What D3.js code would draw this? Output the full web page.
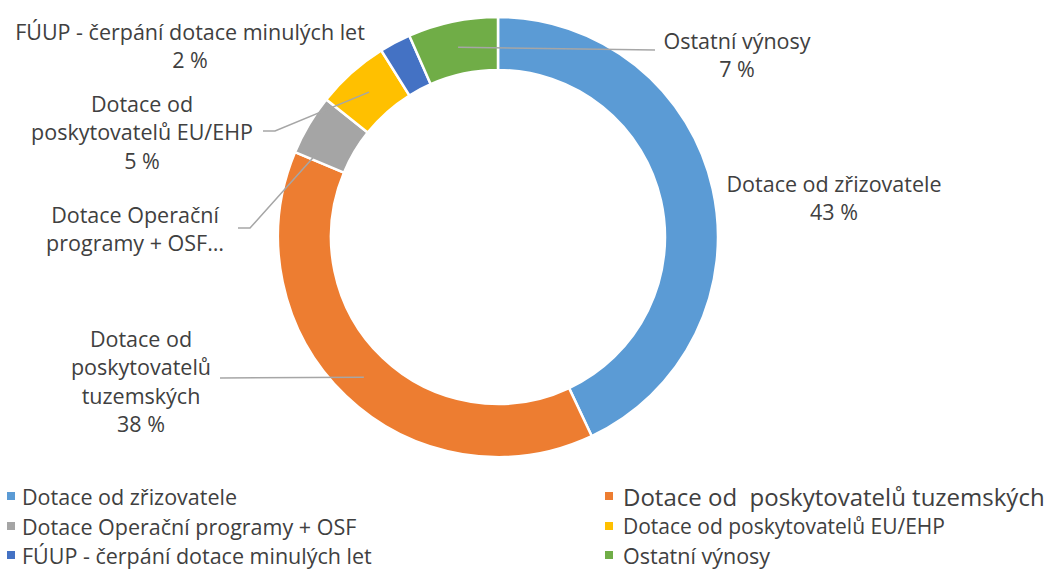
<!DOCTYPE html>
<html>
<head>
<meta charset="utf-8">
<script src="https://cdn.jsdelivr.net/npm/d3@7"></script>
<style>
  html, body { margin: 0; padding: 0; background: #fff; }
  text { font-family: "Open Sans", sans-serif; fill: #404040; }
</style>
</head>
<body>
<div id="chart"></div>
<script>
// shares (percent of total)
const categories = [
    "Dotace od zřizovatele",
    "Dotace od  poskytovatelů tuzemských",
    "Dotace Operační programy + OSF",
    "Dotace od poskytovatelů EU/EHP",
    "FÚUP - čerpání dotace minulých let",
    "Ostatní výnosy"
];
const values = [43.0, 38.3, 4.45, 5.35, 2.3, 6.6];
const colors = ["#5b9bd5", "#ed7d31", "#a5a5a5", "#ffc000", "#4472c4", "#70ad47"];

// data label text (without the percent line)
const labelLines = [
    ["Dotace od zřizovatele"],
    ["Dotace od", "poskytovatelů", "tuzemských"],
    ["Dotace Operační", "programy + OSF…"],
    ["Dotace od", "poskytovatelů EU/EHP"],
    ["FÚUP - čerpání dotace minulých let"],
    ["Ostatní výnosy"]
];
const showPercent = [true, true, false, true, true, true];

var width = 1048, height = 569;
var cx = 498, cy = 237, outerR = 220, innerR = 167;
var fontSize = 21.5, lineH = 28.5;

// where each label block sits (centre x, first line y) and its leader line
var labelPos = [
    {x: 834, y: 183, leader: null},
    {x: 141, y: 338, leader: {pts: [[220, 378]], frac: 0.5, r: 194}},
    {x: 135, y: 214, leader: {pts: [[238, 228], [250, 228]], frac: 0.05, r: 201}},
    {x: 142, y: 103, leader: {pts: [[263, 131], [275, 131]], frac: 0.5, r: 194}},
    {x: 190, y: 31, leader: null},
    {x: 737, y: 40, leader: {pts: [[655, 50]], frac: 0.5, r: 194}}
];
// the second legend entry is set a bit larger in the original
var legendSize = [21.5, 24, 21.5, 21, 21.5, 21.5];

var svg = d3.select("#chart")
    .append("svg")
    .attr("width", width)
    .attr("height", height);

var pie = d3.pie().sort(null).value(d => d);
var arcs = pie(values);
var total = d3.sum(values);

var arc = d3.arc().innerRadius(innerR).outerRadius(outerR);

var ring = svg.append("g")
    .attr("transform", "translate(" + cx + "," + cy + ")");

ring.selectAll("path")
    .data(arcs)
    .enter().append("path")
    .attr("d", arc)
    .attr("fill", (d, i) => colors[i])
    .attr("stroke", "#fff")
    .attr("stroke-width", 2.5);

// leader lines
var line = d3.line();
arcs.forEach(function(d, i) {
    var L = labelPos[i].leader;
    if (!L) return;
    var a = d.startAngle + (d.endAngle - d.startAngle) * L.frac;
    var end = [cx + Math.sin(a) * L.r, cy - Math.cos(a) * L.r];
    svg.append("path")
        .attr("d", line(L.pts.concat([end])))
        .attr("fill", "none")
        .attr("stroke", "#a6a6a6")
        .attr("stroke-width", 1.5);
});

// data labels
arcs.forEach(function(d, i) {
    var lines = labelLines[i].slice();
    if (showPercent[i]) lines.push(Math.round(d.value / total * 100) + " %");
    var t = svg.append("text")
        .attr("text-anchor", "middle")
        .style("font-size", fontSize + "px");
    lines.forEach(function(s, k) {
        t.append("tspan")
            .attr("x", labelPos[i].x)
            .attr("y", labelPos[i].y + k * lineH)
            .attr("dominant-baseline", "central")
            .text(s);
    });
});

// legend, two columns
var legend = svg.append("g");
var colX = [7, 605], rowY = [496, 526, 555];
categories.forEach(function(c, i) {
    var g = legend.append("g")
        .attr("transform", "translate(" + colX[i % 2] + "," + rowY[Math.floor(i / 2)] + ")");
    g.append("rect")
        .attr("x", 0).attr("y", -4)
        .attr("width", 8).attr("height", 8)
        .attr("fill", colors[i]);
    g.append("text")
        .attr("x", i % 2 ? 18 : 15)
        .attr("y", 0)
        .attr("dominant-baseline", "central")
        .style("font-size", legendSize[i] + "px")
        .style("white-space", "pre")
        .attr("xml:space", "preserve")
        .text(c);
});
</script>
</body>
</html>
